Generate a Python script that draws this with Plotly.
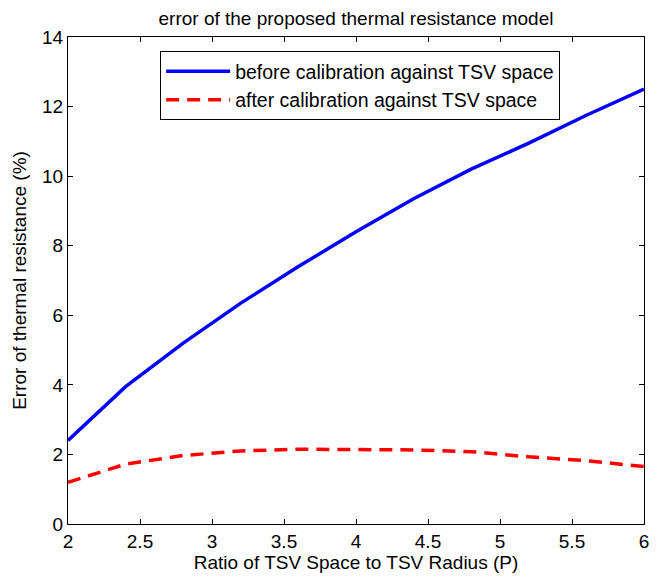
import plotly.graph_objects as go

ratio = [2.0, 2.4, 2.8, 3.2, 3.6, 4.0, 4.4, 4.8, 5.2, 5.6, 6.0]
before_cal = [2.4, 3.95, 5.2, 6.35, 7.4, 8.4, 9.35, 10.2, 10.95, 11.75, 12.5]
after_cal = [1.2, 1.72, 1.97, 2.1, 2.15, 2.15, 2.13, 2.08, 1.93, 1.82, 1.65]

font = "Liberation Sans, Arial, sans-serif"
fs = 19

fig = go.Figure()
fig.add_trace(go.Scatter(x=ratio, y=before_cal, mode="lines",
                         name="before calibration against TSV space",
                         line=dict(color="#0000ff", width=3.5)))
fig.add_trace(go.Scatter(x=ratio, y=after_cal, mode="lines",
                         name="after calibration against TSV space",
                         line=dict(color="#ff0000", width=3.5, dash="13px,8px")))

axis_common = dict(showgrid=False, zeroline=False, showline=True, linecolor="black",
                   linewidth=1, mirror="ticks", ticks="inside", ticklen=5,
                   tickcolor="black", tickfont=dict(family=font, size=fs, color="black"))

fig.update_layout(
    width=657, height=582,
    margin=dict(l=68, r=8, t=37, b=58),
    paper_bgcolor="white", plot_bgcolor="white",
    title=dict(text="error of the proposed thermal resistance model",
               x=0.5, xref="paper", xanchor="center", y=0.969, yanchor="middle",
               font=dict(family=font, size=fs, color="black")),
    xaxis=dict(range=[2, 6], tickvals=[2, 2.5, 3, 3.5, 4, 4.5, 5, 5.5, 6],
               title=dict(text="Ratio of TSV Space to TSV Radius (P)", standoff=3,
                          font=dict(family=font, size=fs, color="black")),
               **axis_common),
    yaxis=dict(range=[0, 14], tickvals=[0, 2, 4, 6, 8, 10, 12, 14],
               title=dict(text="Error of thermal resistance (%)", standoff=10,
                          font=dict(family=font, size=fs, color="black")),
               **axis_common),
    legend=dict(x=0.160, y=0.971, xanchor="left", yanchor="top",
                bordercolor="black", borderwidth=1, bgcolor="white",
                font=dict(family=font, size=19.5, color="black"),
                tracegroupgap=0, itemwidth=64),
    showlegend=True,
)

fig.write_html("out.html")
